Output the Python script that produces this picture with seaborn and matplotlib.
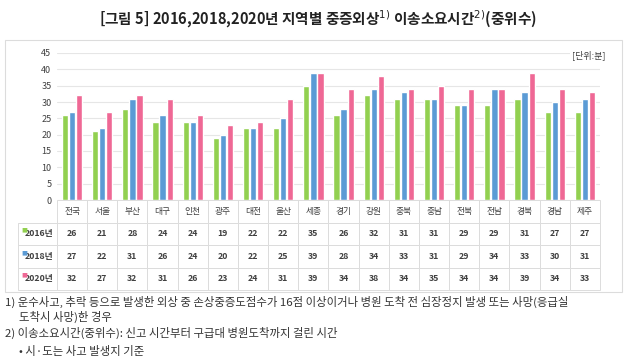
import numpy as np
import pandas as pd
import matplotlib.pyplot as plt
import seaborn as sns
from matplotlib.patches import Rectangle

regions = ["전국", "서울", "부산", "대구", "인천", "광주", "대전", "울산", "세종",
           "경기", "강원", "충북", "충남", "전북", "전남", "경북", "경남", "제주"]
years = ["2016년", "2018년", "2020년"]
v2016 = [26, 21, 28, 24, 24, 19, 22, 22, 35, 26, 32, 31, 31, 29, 29, 31, 27, 27]
v2018 = [27, 22, 31, 26, 24, 20, 22, 25, 39, 28, 34, 33, 31, 29, 34, 33, 30, 31]
v2020 = [32, 27, 32, 31, 26, 23, 24, 31, 39, 34, 38, 34, 35, 34, 34, 39, 34, 33]
colors = ["#92d050", "#5b9bd5", "#ef6895"]

df = pd.DataFrame({
    "지역": regions * 3,
    "연도": np.repeat(years, len(regions)),
    "시간": v2016 + v2018 + v2020,
})

sns.set_style("white")
plt.rcParams["font.family"] = ["Noto Sans CJK KR", "DejaVu Sans"]

W, H = 635, 361
fig = plt.figure(figsize=(W / 100, H / 100), dpi=100)

# outer chart box
fig.patches.append(Rectangle((5 / W, 1 - 292 / H), 617 / W, 252 / H, transform=fig.transFigure,
                             fill=False, edgecolor="#dcdcdc", lw=0.8))

ax = fig.add_axes([57 / W, 1 - 200 / H, 543 / W, 147 / H])
sns.barplot(data=df, x="지역", y="시간", hue="연도", palette=colors, width=0.7, gap=0.12,
            ax=ax, legend=False, saturation=1)
ax.set_ylim(0, 45)
ax.set_yticks(range(0, 46, 5))
ax.yaxis.grid(True, color="#e6e6e6", lw=0.8)
ax.set_axisbelow(True)
sns.despine(ax=ax, left=True, bottom=True)
ax.tick_params(axis="x", labelbottom=False, length=0)
ax.tick_params(axis="y", length=0, labelsize=6.5, labelcolor="#404040", pad=4)
ax.set_xlabel("")
ax.set_ylabel("")

ax.text(1.01, 0.985, "[단위:분]", transform=ax.transAxes, ha="right", va="center", fontsize=6.5,
        color="#404040", bbox=dict(facecolor="white", edgecolor="none", pad=1.5))

# data table below the bars
rows = [[""] + regions]
for y, vals in zip(years, [v2016, v2018, v2020]):
    rows.append([y] + [str(v) for v in vals])
w0 = 39 / 543
tbl = ax.table(cellText=rows, cellLoc="center", colWidths=[w0] + [1 / 18] * 18,
               bbox=[-w0, -90 / 147, 1 + w0, 90 / 147])
tbl.auto_set_font_size(False)
tbl.set_fontsize(6.3)
for (r, c), cell in tbl.get_celld().items():
    cell.set_edgecolor("#dcdcdc")
    cell.set_linewidth(0.7)
    t = cell.get_text()
    t.set_color("#404040")
    if r > 0:
        t.set_fontweight("bold")
    if c == 0:
        cell._loc = "right"
        t.set_ha("right")
        if r == 0:
            cell.visible_edges = "B"

row_h = (90 / 147) / 4
for i, col in enumerate(colors):
    ax.text(-w0 + 0.006, -row_h * (i + 1.5) + 0.025, "■", transform=ax.transAxes, color=col,
            fontsize=4.5, ha="left", va="center", family="DejaVu Sans")

fig.text(0.5, 1 - 19 / H, "[그림 5] 2016,2018,2020년 지역별 중증외상$^{1)}$ 이송소요시간$^{2)}$(중위수)",
         ha="center", va="center", fontsize=10.5, weight="bold", color="#222222")

notes = [
    (5, 302, "1) 운수사고, 추락 등으로 발생한 외상 중 손상중증도점수가 16점 이상이거나 병원 도착 전 심장정지 발생 또는 사망(응급실"),
    (19, 317, "도착시 사망)한 경우"),
    (5, 333, "2) 이송소요시간(중위수): 신고 시간부터 구급대 병원도착까지 걸린 시간"),
    (19, 351, "• 시·도는 사고 발생지 기준"),
]
for x, y, s in notes:
    fig.text(x / W, 1 - y / H, s, ha="left", va="center", fontsize=8.2, color="#333333")

fig.savefig("out.png", dpi=100)
